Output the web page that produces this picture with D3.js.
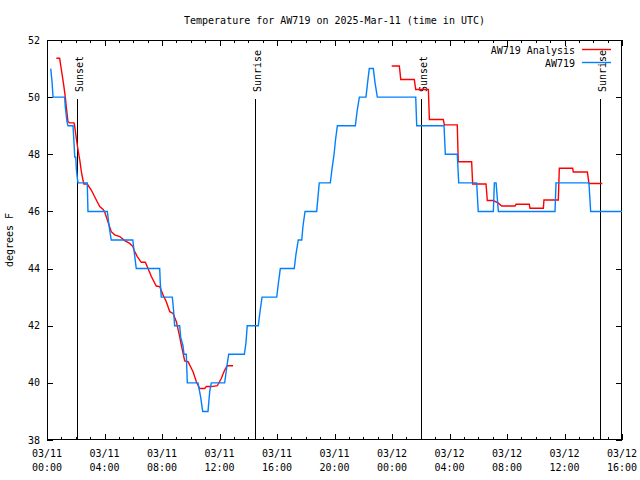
<!DOCTYPE html>
<html>
<head>
<meta charset="utf-8">
<script src="https://cdn.jsdelivr.net/npm/d3@7"></script>
<style>
  html, body { margin: 0; padding: 0; background: #fff; }
  svg { display: block; }
  text { font-family: "DejaVu Sans Mono", monospace; font-size: 10px; fill: #000; }
</style>
</head>
<body>
<svg id="chart" width="640" height="480"></svg>
<script>
// ---- Data (hours since 2025-03-11 00:00 UTC, temperature in degrees F) ----
const obsHours = [0.26,0.35,0.42,1.23,1.27,1.39,1.46,1.81,1.88,1.93,2.00,2.04,2.11,2.16,2.80,2.85,4.20,4.29,4.36,4.47,5.97,6.05,6.21,7.84,7.88,7.95,8.72,8.81,8.88,9.23,9.30,9.46,9.53,9.69,9.76,10.50,10.69,10.83,11.20,11.32,11.43,12.36,12.52,12.64,13.73,13.84,13.93,14.70,14.82,14.96,15.98,16.10,16.23,17.20,17.32,17.48,17.72,17.81,17.95,18.76,18.85,18.94,19.71,19.83,19.97,20.07,20.20,21.45,21.57,21.73,22.19,22.30,22.42,22.70,22.82,22.98,25.65,25.72,27.62,27.71,28.54,28.64,29.89,30.00,31.05,31.12,31.24,31.40,35.34,35.41,37.70,37.82,40.00];
const obsTemp  = [51,50.54,50,50,49.67,49.14,49,49,48.4,47.9,47.9,47.5,47.16,47,47,46,46,45.6,45.35,45,45,44.65,44,44,43.5,43,43,42.5,42,42,41.6,41.3,41,41,40,40,39.5,39,39,39.7,40,40,40.6,41,41,41.4,42,42,42.5,43,43,43.5,44,44,44.5,45,45,45.5,46,46,46.5,47,47,47.5,48,48.5,49,49,49.5,50,50,50.5,51,51,50.5,50,50,49,49,48,48,47,47,46,46,47,47,46,46,47,47,46,46];

const anaHours = [0.65,0.88,0.95,1.04,1.16,1.27,1.34,1.46,1.58,1.88,1.93,2.04,2.16,2.28,2.39,2.50,2.57,2.80,3.08,3.43,3.67,3.90,4.01,4.24,4.47,4.71,5.06,5.41,5.75,5.98,6.05,6.28,6.56,6.84,7.03,7.26,7.60,7.84,8.07,8.30,8.54,8.77,9.00,9.23,9.34,9.58,9.81,10.16,10.39,10.62,10.97,11.08,11.43,11.85,12.13,12.36,12.54,12.94,
                  null,
                  23.98,24.51,24.61,25.55,25.65,26.53,26.60,27.57,27.64,28.54,28.61,29.54,29.61,30.54,30.63,31.05,31.40,31.63,32.56,32.63,33.55,33.60,34.53,34.57,35.57,35.64,36.57,36.61,37.59,37.70,38.63];
const anaTemp  = [51.36,51.36,51.12,50.83,50.43,50.02,49.67,49.14,49.1,49.1,48.97,48.56,48.15,47.8,47.39,47.1,46.96,46.96,46.75,46.4,46.17,46.07,45.99,45.64,45.29,45.18,45.12,44.98,44.88,44.77,44.65,44.42,44.22,44.22,44.0,43.72,43.39,43.37,43.08,42.84,42.49,42.43,42.14,41.62,41.33,40.77,40.74,40.39,40.04,39.8,39.8,39.87,39.87,39.9,40.16,40.45,40.6,40.6,
                  null,
                  51.09,51.09,50.62,50.62,50.27,50.27,49.22,49.22,49.03,49.03,47.74,47.74,46.96,46.96,46.38,46.38,46.29,46.19,46.19,46.25,46.25,46.11,46.11,46.4,46.4,47.51,47.51,47.38,47.38,46.98,46.98];

const sunHours  = [2.07, 14.49, 26.04, 38.49];
const sunLabels = ["Sunset", "Sunrise", "Sunset", "Sunrise"];

const yTicks = [38, 40, 42, 44, 46, 48, 50, 52];
const seriesNames = ["AW719 Analysis", "AW719"];
const seriesColors = ["#ff0000", "#0080ff"];
const titleText = "Temperature for AW719 on 2025-Mar-11 (time in UTC)";
const yLabel = "degrees F";

// ---- Setup ----
const base = Date.UTC(2025, 2, 11, 0, 0);
const toDate = h => new Date(base + h * 3600e3);

const L = 47, R = 622, T = 40, B = 440;
const svg = d3.select("#chart");

const x = d3.scaleUtc().domain([toDate(0), toDate(40)]).range([L, R]);
const y = d3.scaleLinear().domain([38, 52]).range([B, T]);

// Title
svg.append("text").attr("x", (L + R) / 2).attr("y", 24)
  .attr("text-anchor", "middle").text(titleText);

// Y label
svg.append("text").attr("transform", `translate(13,${(T + B) / 2}) rotate(-90)`)
  .attr("text-anchor", "middle").text(yLabel);

// Border
svg.append("rect").attr("x", L + 0.5).attr("y", T + 0.5)
  .attr("width", R - L - 1).attr("height", B - T - 1)
  .attr("fill", "none").attr("stroke", "#000").attr("stroke-width", 1)
  .attr("shape-rendering", "crispEdges");

// Ticks
const majorTimes = d3.utcHour.every(4).range(toDate(0), toDate(40.01));
const minorTimes = d3.utcHour.every(1).range(toDate(0), toDate(40.01));
const tickG = svg.append("g").attr("stroke", "#000").attr("shape-rendering", "crispEdges");
minorTimes.forEach(t => {
  const xx = Math.round(x(t)) + 0.5;
  tickG.append("line").attr("x1", xx).attr("x2", xx).attr("y1", B).attr("y2", B - 3);
  tickG.append("line").attr("x1", xx).attr("x2", xx).attr("y1", T).attr("y2", T + 3);
});
majorTimes.forEach(t => {
  const xx = Math.round(x(t)) + 0.5;
  tickG.append("line").attr("x1", xx).attr("x2", xx).attr("y1", B).attr("y2", B - 6);
  tickG.append("line").attr("x1", xx).attr("x2", xx).attr("y1", T).attr("y2", T + 6);
});
yTicks.forEach(v => {
  const yy = Math.round(y(v)) + 0.5;
  tickG.append("line").attr("x1", L).attr("x2", L + 6).attr("y1", yy).attr("y2", yy);
  tickG.append("line").attr("x1", R).attr("x2", R - 6).attr("y1", yy).attr("y2", yy);
});

// Tick labels
const fmtDate = d3.utcFormat("%m/%d"), fmtTime = d3.utcFormat("%H:%M");
majorTimes.forEach(t => {
  const tx = svg.append("text").attr("x", x(t)).attr("text-anchor", "middle");
  tx.append("tspan").attr("x", x(t)).attr("y", 457).text(fmtDate(t));
  tx.append("tspan").attr("x", x(t)).attr("y", 471).text(fmtTime(t));
});
yTicks.forEach(v => {
  svg.append("text").attr("x", 40).attr("y", y(v)).attr("dy", "0.35em")
    .attr("text-anchor", "end").text(v);
});

// Sun lines
sunHours.forEach((h, i) => {
  const xx = Math.round(x(toDate(h))) + 0.5;
  svg.append("line").attr("x1", xx).attr("x2", xx).attr("y1", B).attr("y2", 99)
    .attr("stroke", "#000").attr("stroke-width", 1).attr("shape-rendering", "crispEdges");
  svg.append("text").attr("transform", `translate(${xx + 5},92) rotate(-90)`)
    .attr("text-anchor", "start").text(sunLabels[i]);
});

// Lines
const line = d3.line()
  .defined(d => d[0] !== null && d[1] !== null)
  .x(d => x(toDate(d[0]))).y(d => y(d[1]));

const anaData = anaHours.map((h, i) => [h, anaTemp[i]]);
const obsData = obsHours.map((h, i) => [h, obsTemp[i]]);

svg.append("path").datum(anaData).attr("d", line)
  .attr("fill", "none").attr("stroke", seriesColors[0]).attr("stroke-width", 1.4);
svg.append("path").datum(obsData).attr("d", line)
  .attr("fill", "none").attr("stroke", seriesColors[1]).attr("stroke-width", 1.4);

// Legend
seriesNames.forEach((name, i) => {
  const ly = 50 + i * 13;
  svg.append("text").attr("x", 575).attr("y", ly).attr("dy", "0.35em")
    .attr("text-anchor", "end").text(name);
  svg.append("line").attr("x1", 582).attr("x2", 611)
    .attr("y1", Math.round(ly) - 0.5).attr("y2", Math.round(ly) - 0.5)
    .attr("stroke", seriesColors[i]).attr("stroke-width", 1.4);
});
</script>
</body>
</html>
